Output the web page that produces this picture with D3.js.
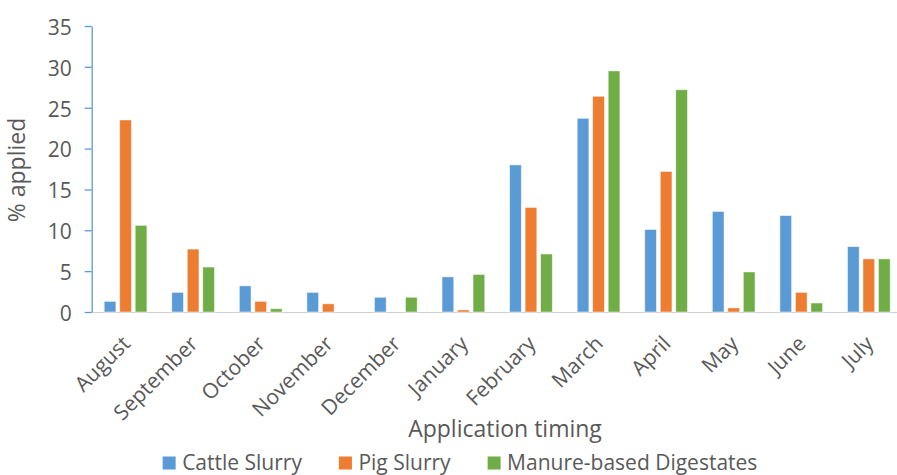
<!DOCTYPE html>
<html>
<head>
<meta charset="utf-8">
<script src="https://cdn.jsdelivr.net/npm/d3@7"></script>
<style>
  html, body { margin: 0; padding: 0; background: #fff; }
  svg { display: block; font-family: "Open Sans", sans-serif; }
</style>
</head>
<body>
<svg id="chart" width="897" height="475"></svg>
<script>
// Share of annual application by month, per manure type
const months = ["August", "September", "October", "November", "December", "January",
                "February", "March", "April", "May", "June", "July"];
const seriesNames = ["Cattle Slurry", "Pig Slurry", "Manure-based Digestates"];
const cattleSlurry = [1.3, 2.4, 3.2, 2.4, 1.8, 4.3, 18.0, 23.7, 10.1, 12.3, 11.8, 8.0];
const pigSlurry    = [23.5, 7.7, 1.3, 1.0, 0, 0.25, 12.8, 26.4, 17.2, 0.5, 2.4, 6.5];
const digestates   = [10.6, 5.5, 0.4, 0, 1.8, 4.6, 7.1, 29.5, 27.2, 4.9, 1.1, 6.5];
const yTicks = [0, 5, 10, 15, 20, 25, 30, 35];
const colors = ["#5b9bd5", "#ed7d31", "#70ad47"];

const seriesValues = [cattleSlurry, pigSlurry, digestates];
const rows = months.map((m, i) => ({
  month: m,
  values: seriesNames.map((s, k) => ({ series: s, value: seriesValues[k][i] }))
}));

const svg = d3.select("#chart");
const textColor = "#595959";

const plotLeft = 91.7, plotBottom = 312, plotTop = 26;
const x0 = d3.scaleBand().domain(months).range([plotLeft, plotLeft + 12 * 67.57]).padding(0);
const x1 = d3.scaleBand().domain(seriesNames).range([12.5, 55.2]).paddingInner(0.245).paddingOuter(0);
const y = d3.scaleLinear().domain([0, 35]).range([plotBottom, plotTop]);
const color = d3.scaleOrdinal().domain(seriesNames).range(colors);

// category axis baseline
svg.append("line")
  .attr("x1", plotLeft).attr("x2", 897)
  .attr("y1", plotBottom + 0.5).attr("y2", plotBottom + 0.5)
  .attr("stroke", "#d0d0d0").attr("stroke-width", 1.2);

// bars
const groups = svg.append("g").selectAll("g")
  .data(rows).join("g")
  .attr("transform", d => `translate(${x0(d.month)},0)`);

groups.selectAll("rect")
  .data(d => d.values).join("rect")
  .attr("x", d => x1(d.series))
  .attr("width", x1.bandwidth())
  .attr("y", d => y(d.value))
  .attr("height", d => Math.max(0, y(0) - y(d.value)))
  .attr("fill", d => color(d.series))
  .attr("stroke", d => d.value > 0 ? "#ffffff" : "none")
  .attr("stroke-width", 0.8)
  .attr("stroke-opacity", 0.6);

// value axis
const yAxis = svg.append("g")
  .attr("transform", `translate(${plotLeft},0)`)
  .call(d3.axisLeft(y).tickValues(yTicks).tickSize(7).tickSizeOuter(0).tickPadding(13));
yAxis.select(".domain").attr("stroke", "#5b9bd5").attr("stroke-width", 1.3);
yAxis.selectAll(".tick line").attr("stroke", "#5b9bd5").attr("stroke-width", 1.3);
yAxis.selectAll(".tick text")
  .attr("fill", textColor)
  .style("font-size", "21px")
  .style("font-family", "'Open Sans', sans-serif")
  .attr("dy", "0.4em");

// month labels, slanted
svg.append("g").selectAll("text")
  .data(months).join("text")
  .attr("transform", d => `translate(${x0(d) + x0.bandwidth() / 2 + 6},345) rotate(-45)`)
  .attr("text-anchor", "end")
  .attr("fill", textColor)
  .style("font-size", "21px")
  .text(d => d);

// axis titles
svg.append("text")
  .attr("x", 505).attr("y", 437)
  .attr("text-anchor", "middle")
  .attr("fill", textColor)
  .style("font-size", "23px")
  .text("Application timing");

svg.append("text")
  .attr("transform", "translate(25,170) rotate(-90)")
  .attr("text-anchor", "middle")
  .attr("fill", textColor)
  .style("font-size", "23px")
  .text("% applied");

// legend, centred under the plot
const legend = svg.append("g");
const items = legend.selectAll("g").data(seriesNames).join("g");
items.append("rect")
  .attr("width", 13).attr("height", 13)
  .attr("y", 456.5)
  .attr("fill", d => color(d));
items.append("text")
  .attr("x", 19.5).attr("y", 469.5)
  .attr("fill", textColor)
  .style("font-size", "21px")
  .text(d => d);

const widths = [];
items.each(function () { widths.push(19.5 + d3.select(this).select("text").node().getComputedTextLength()); });
const gap = 37;
const total = d3.sum(widths) + gap * (widths.length - 1);
let cursor = 460 - total / 2;
items.attr("transform", (d, i) => {
  const t = `translate(${cursor},0)`;
  cursor += widths[i] + gap;
  return t;
});
</script>
</body>
</html>
